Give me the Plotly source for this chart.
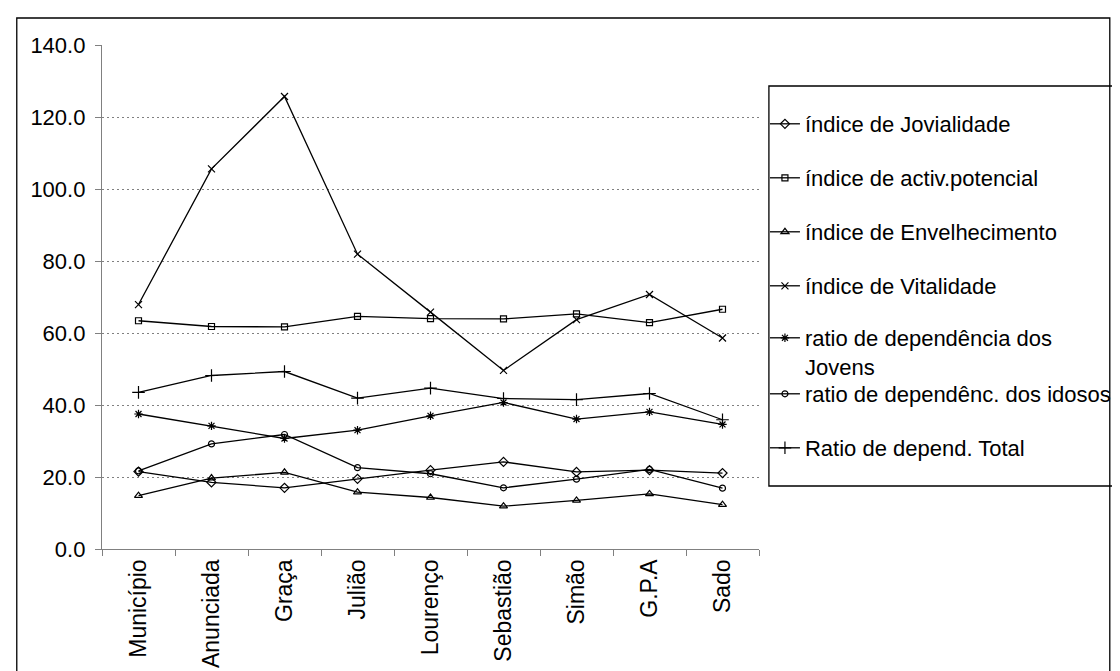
import plotly.graph_objects as go

categories = ["Município", "Anunciada", "Graça", "Julião", "Lourenço",
              "Sebastião", "Simão", "G.P.A", "Sado"]

jovialidade = [21.5, 18.5, 17.0, 19.5, 21.9, 24.2, 21.4, 21.9, 21.1]
activ_potencial = [63.4, 61.8, 61.7, 64.6, 64.0, 63.9, 65.3, 62.9, 66.6]
envelhecimento = [14.8, 19.7, 21.3, 15.8, 14.3, 11.9, 13.5, 15.3, 12.3]
vitalidade = [67.9, 105.6, 125.7, 81.9, 65.8, 49.6, 63.7, 70.7, 58.6]
dep_jovens = [37.5, 34.2, 30.7, 33.0, 37.0, 40.7, 36.1, 38.1, 34.6]
dep_idosos = [21.7, 29.2, 31.8, 22.6, 20.9, 17.0, 19.4, 22.1, 16.9]
dep_total = [43.5, 48.2, 49.3, 41.9, 44.7, 41.8, 41.5, 43.2, 35.9]

y_ticks = [0, 20, 40, 60, 80, 100, 120, 140]

series = [
    ("índice de Jovialidade", jovialidade, "diamond-open", 7),
    ("índice de activ.potencial", activ_potencial, "square-open", 6),
    ("índice de Envelhecimento", envelhecimento, "triangle-up-open", 7),
    ("índice de Vitalidade", vitalidade, "x-thin-open", 7),
    ("ratio de dependência dos<br>Jovens", dep_jovens, "asterisk-open", 7),
    ("ratio de dependênc. dos idosos", dep_idosos, "circle-open", 6),
    ("Ratio de depend. Total", dep_total, "cross-thin-open", 9),
]

# plot area in pixels
L, R, T, B = 94, 757, 37, 541
W, H = 1120, 671


def px_x(px):
    return (px - L) / (R - L)


def px_y(py):
    return (B - py) / (B - T)


legend_rows = [116, 170, 224, 278, 344.5, 386, 440]
FONT = "Liberation Sans, Arial, sans-serif"

fig = go.Figure()
layout_legends = {}
for i, (name, vals, sym, size) in enumerate(series):
    key = "legend" if i == 0 else f"legend{i+1}"
    fig.add_trace(go.Scatter(
        x=categories, y=vals, name=name, mode="lines+markers",
        line=dict(color="black", width=1.3),
        marker=dict(symbol=sym, size=size, color="black",
                    line=dict(color="black", width=1.2)),
        legend=key,
    ))
    layout_legends[key] = dict(
        x=px_x(763), y=px_y(legend_rows[i]), xanchor="left", yanchor="middle",
        bgcolor="rgba(0,0,0,0)", borderwidth=0,
        font=dict(family=FONT, size=22, color="black"),
        itemwidth=30, valign="top" if "<br>" in name else "middle",
    )

fig.update_layout(
    width=W, height=H,
    margin=dict(l=L, r=W - R, t=T, b=H - B, pad=0),
    paper_bgcolor="white", plot_bgcolor="white",
    font=dict(family=FONT, size=22, color="black"),
    showlegend=True,
    **layout_legends,
)

fig.update_xaxes(
    type="category", range=[-0.5, len(categories) - 0.5],
    tickangle=-90, tickson="boundaries", ticks="outside", ticklen=6,
    tickcolor="#808080", showline=True, linecolor="#808080", linewidth=1.3,
    showgrid=False, zeroline=False, automargin=False,
    tickfont=dict(family=FONT, size=23, color="black"),
)
fig.update_yaxes(
    range=[0, 140], tickvals=y_ticks, tickformat=".1f",
    ticks="outside", ticklen=6, tickcolor="#808080", ticklabelstandoff=5,
    showline=True, linecolor="#808080", linewidth=1.3,
    showgrid=True, gridcolor="#808080", gridwidth=1, griddash="2px,3px",
    zeroline=False, automargin=False,
    tickfont=dict(family=FONT, size=22, color="black"),
)

# legend frame
fig.add_shape(type="rect", xref="paper", yref="paper",
              x0=px_x(767), x1=px_x(1125), y0=px_y(478), y1=px_y(78),
              line=dict(color="black", width=1.3), fillcolor="rgba(0,0,0,0)")
# outer chart frame
fig.add_shape(type="rect", xref="paper", yref="paper",
              x0=px_x(8), x1=px_x(1111), y0=px_y(664), y1=px_y(10),
              line=dict(color="black", width=1.3), fillcolor="rgba(0,0,0,0)")

fig.write_html("out.html")
